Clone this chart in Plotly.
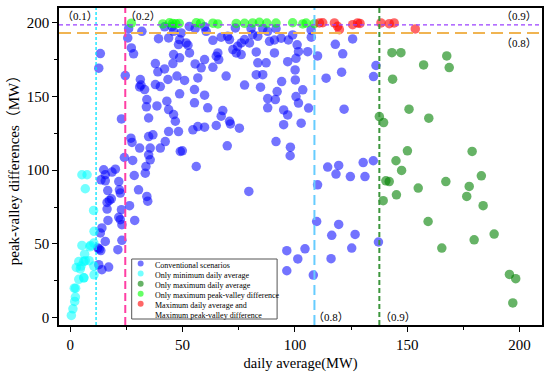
import plotly.graph_objects as go

# ---------------- data ----------------
blue_x = [13.4, 12.7, 24.5, 26, 25.6, 28.2, 27.2, 31.9, 39.3, 37.9, 39, 42, 43.5, 46, 45.7, 47.5, 31.2, 31.5, 33.1, 30.9,
          37.9, 40.1, 34.1, 33.9, 38.6, 43, 43.8, 46, 34.9, 22.8, 46.8, 43.8, 46, 42, 49.4, 48.2,
          48.7, 52.4, 53.1, 55.6, 60.5, 63.5, 67.2, 70.1, 70.9, 72.4, 73.9, 76.1, 79.8, 81.2, 80.5, 83.5, 85.7, 88.7,
          51.6, 77.6, 87.9, 74.5, 59.8, 45.3, 53, 73.5,
          48.7, 55.6, 58.3, 59.8, 63.5, 65, 65.7, 66.1, 76.1, 83.5, 87.2, 82.8, 85.7, 82.8, 69.4, 50.9, 56.8, 55.3,
          77.6, 84.7, 55.3, 59.8, 61.2, 67.9, 67.2, 87.9, 87.9, 48.7, 70.9, 90.9, 91.3, 91.6,
          27, 27.5, 30.9, 34.9, 36.8, 35.6, 34.9, 35.6, 33.7, 33.4, 40.1, 42.3, 43.8, 48.2, 49, 24.1, 27.8, 28.5,
          30.4, 34.1, 34.5, 14.9, 20.1, 18.6, 15.6, 13.7, 15.6, 21.6, 16.7, 21.9, 22.3, 18.3, 17.4, 16.4, 16.4,
          22.8, 26.4, 16.8, 21.6, 22.3, 23, 28.7, 14.1, 13.4,
          15.6, 13, 13.6, 12.3, 12.7, 14.1, 17.1, 21.2, 23,
          54.6, 56.8, 59.8, 65, 71.3, 75.3, 49.9, 69.9, 56.1, 79.5,
          90.9, 93.9, 97.1, 99, 101, 101.6, 100.5, 96.8, 100.1, 94.1, 100.2, 92.1, 100.5, 103.5, 101.6, 95, 96.8,
          102.8, 95, 91.6, 98, 97.9, 105.7, 107.3, 107.2, 110.1, 118, 121.3, 125.7, 113.9, 120.8, 136.1, 135,
          121.9, 114.6, 118.3, 119.5, 124.7, 130.4, 131.2, 134.9, 110.1, 106.1,
          96.4, 96.4, 101.3, 104.5, 108.2, 109.7, 116.4, 119.5, 116.1, 125.3, 126.8, 137.2]
blue_y = [179.1, 169.2, 164.2, 196, 189.7, 178.9, 182.9, 194.2, 189.2, 172.3, 166.7, 168.7, 161.5, 178.4, 172.3, 163.8, 161.5, 157.7, 154.7, 156.5,
          158.1, 156.7, 147.9, 143, 143.6, 146.8, 141.1, 137.7, 135.4, 134.8, 133.2, 189.7, 194.2, 197.2, 193.1, 185.2,
          188.6, 184.8, 179.5, 196, 194.2, 188.1, 190.2, 190.8, 188.6, 181.8, 179.5, 186.3, 186.3, 192, 196, 190.8, 196, 187.4,
          186.3, 188.6, 194.2, 184, 197.2, 197.4, 197.5, 196.5,
          176.2, 172.1, 169.4, 175, 169.8, 177.3, 179.5, 175, 178.4, 172.8, 172.8, 164.8, 164.8, 180.2, 163.8, 160.9, 162.6, 154.7,
          157.7, 156.3, 145.7, 150.9, 142.3, 140.4, 136.6, 148.6, 142.3, 151.8, 133.2, 179.5, 147.9, 196,
          121.7, 118.8, 115, 122.8, 124, 115, 110.4, 107, 102.5, 98, 115, 119.4, 126.2, 126.2, 112.7, 108.6, 106.6, 96.4,
          86.7, 82.2, 79, 100.3, 100.7, 98.7, 96.9, 93.5, 92.8, 92.3, 86.2, 86.7, 84.5, 80.6, 79.5, 78.1, 73.6,
          73.2, 75.9, 65.9, 68, 66.4, 63, 65.9, 60.8, 57.4,
          51.7, 46.5, 45.5, 47.3, 35.9, 32.5, 34.3, 46.1, 52.4,
          127.4, 129.6, 129.2, 130.3, 131.4, 128.5, 113.1, 116.5, 102.5, 85.6,
          188.3, 189.5, 188.3, 191.7, 185, 180.4, 175.9, 173.6, 168, 160.1, 161.2, 153.3, 149.9, 154.5, 145.5, 140.9, 137.5,
          131.9, 130.9, 119.4, 115.6, 109.8, 180.4, 190.2, 195.1, 177.5, 185.4, 178.9, 189, 162.4, 166.5, 171, 163.5,
          141.4, 102.1, 97.4, 103.2, 95.7, 105.2, 95.7, 106.4, 90.1, 142.1,
          45.4, 31.8, 39.8, 46.7, 28.9, 65.2, 55.8, 63.2, 40, 47.2, 56.4, 51.3]

cyan_x = [0.5, 1.2, 2.0, 2.3, 2.4, 1.8, 3.8, 4.5, 2.7, 4.8, 3.8, 6.0, 6.7, 8.4, 6.4, 5.2, 8.7, 10.5, 10.6, 10.4,
          5.2, 7.5, 6.7, 10.6, 6.1, 10.5, 9.0, 6.0]
cyan_y = [1.5, 6, 11, 14, 20, 20, 26, 33, 34, 35, 38, 38, 38.6, 38.6, 43, 49, 48, 50.6, 58.5, 72.7,
          96.9, 96.9, 87.4, 29, 27, 35, 49, 27]

dgreen_x = [143.2, 147.2, 157.3, 167.6, 168.7, 143.5, 150.8, 159.6, 137.6, 139.5, 150.1, 178.9, 145, 147.5, 183,
            140.5, 142, 167.2, 177.6, 154.9, 139.3, 145.2, 176.5, 183.8, 159.3, 179.8, 188.7, 165.4, 195.5, 198.3, 197]
dgreen_y = [179.7, 179.7, 171.4, 177.5, 169.6, 161.7, 141.4, 135.3, 136.4, 132.3, 113.1, 112.7, 106.4, 99.8, 96.2,
            92.8, 92.3, 92.3, 89, 87.9, 79.3, 83.3, 82.2, 75.9, 65.2, 52.8, 56.7, 47.2, 29.3, 26.4, 10]

lgreen_x = [27.2, 41.2, 44.2, 45.6, 47, 48.5, 56.1, 58, 63.5, 65.7, 73.9, 77.6, 81.2, 84.2, 87.5, 91.6, 99, 103.5, 105, 108.7]
lgreen_y = [199.7, 199.2, 200, 199.5, 199.3, 199.5, 200, 199.6, 199.7, 199.2, 199.5, 199.6, 199.9, 200.3, 199.8, 199.8,
            200, 199.2, 199.8, 199.4]

red_x = [110.9, 112.4, 117.6, 119, 119.8, 125.7, 127.9, 129, 138.3, 142, 144.2, 153.6]
red_y = [199.9, 200, 199.9, 197.6, 195.3, 198.7, 199.9, 199.5, 199.9, 199.4, 199.9, 195.8]

series_names = ["Conventional scenarios", "Only minimum daily average", "Only maximum daily average",
                "Only maximum peak-valley difference", "Maximum daily average and<br>Maximum peak-valley difference"]
series_colors = ["rgba(0,0,255,0.55)", "rgba(0,255,255,0.55)", "rgba(0,128,0,0.6)",
                 "rgba(0,255,0,0.6)", "rgba(255,0,0,0.6)"]

vline_x = [11.5, 24.5, 108.7, 137.6]
vline_colors = ["#00E5FF", "#FF3FA4", "#66CCFF", "#3C963C"]
vline_dash = ["3px,2px", "8px,4px", "10px,5px", "5px,3px"]
vline_width = [1.3, 2, 2, 2]
hline_y = [198.5, 193.1]
hline_colors = ["#9A40FF", "#F0B452"]
hline_dash = ["4px,3px", "12px,6px"]
hline_width = [1.2, 2]

labels_text = ["（0.1）", "（0.2）", "（0.9）", "（0.8）", "（0.8）", "（0.9）"]

# ---------------- figure ----------------
FONT = "Liberation Serif, Times New Roman, Noto Sans CJK SC, serif"
W, H = 550, 376
ML, MR, MT, MB = 59, 6, 8, 51
PW, PH = W - ML - MR, H - MT - MB


def pxx(px):
    return (px - ML) / PW


def pxy(py):
    return (H - MB - py) / PH


fig = go.Figure()
xs = [blue_x, cyan_x, dgreen_x, lgreen_x, red_x]
ys = [blue_y, cyan_y, dgreen_y, lgreen_y, red_y]
for i in range(5):
    fig.add_trace(go.Scatter(x=xs[i], y=ys[i], mode="markers", name=series_names[i], showlegend=False,
                             marker=dict(size=9.5, color=series_colors[i], line=dict(width=0))))

shapes = []
for x, c, d, w in zip(vline_x, vline_colors, vline_dash, vline_width):
    shapes.append(dict(type="line", xref="x", yref="paper", x0=x, x1=x, y0=0, y1=1,
                       line=dict(color=c, dash=d, width=w)))
for y, c, d, w in zip(hline_y, hline_colors, hline_dash, hline_width):
    shapes.append(dict(type="line", xref="paper", yref="y", x0=0, x1=1, y0=y, y1=y,
                       line=dict(color=c, dash=d, width=w)))

# custom legend box
shapes.append(dict(type="rect", xref="paper", yref="paper", x0=pxx(132), x1=pxx(278), y0=pxy(319), y1=pxy(259),
                   line=dict(color="#555555", width=1), fillcolor="white"))
annotations = []
row_y = [263.5, 273.6, 283.7, 293.7, 303.7]
for i, (name, col) in enumerate(zip(series_names, series_colors)):
    cy = row_y[i]
    shapes.append(dict(type="circle", xref="paper", yref="paper", x0=pxx(138), x1=pxx(144),
                       y0=pxy(cy + 3), y1=pxy(cy - 3), line=dict(width=0), fillcolor=col))
    annotations.append(dict(xref="paper", yref="paper", x=pxx(153), y=pxy(cy - 5), xanchor="left", yanchor="top",
                            text=name, showarrow=False, align="left",
                            font=dict(family=FONT, size=8, color="black")))

ann_pos = [(80, 16), (143, 16), (521, 16), (521, 43), (332, 317), (399, 317)]
for t, (ax, ay) in zip(labels_text, ann_pos):
    annotations.append(dict(xref="paper", yref="paper", x=pxx(ax), y=pxy(ay), text=t, showarrow=False,
                            xanchor="center", yanchor="middle", font=dict(family=FONT, size=11, color="black")))

axis_common = dict(showline=True, linecolor="black", linewidth=1.5, mirror=True, ticks="outside",
                   ticklen=5, tickwidth=1.2, tickcolor="black", showgrid=False, zeroline=False,
                   tickfont=dict(family=FONT, size=15, color="black"),
                   minor=dict(ticks="outside", ticklen=3, tickwidth=1, tickcolor="black", dtick=25))

fig.update_layout(
    width=W, height=H, margin=dict(l=ML, r=MR, t=MT, b=MB),
    paper_bgcolor="white", plot_bgcolor="white",
    xaxis=dict(range=[-5, 210], tickvals=[0, 50, 100, 150, 200],
               title=dict(text="daily average(MW)", font=dict(family=FONT, size=14.5, color="black"), standoff=6),
               **axis_common),
    yaxis=dict(range=[-5, 210], tickvals=[0, 50, 100, 150, 200],
               title=dict(text="peak-valley differences（MW）", font=dict(family=FONT, size=15, color="black"),
                          standoff=4),
               **axis_common),
    shapes=shapes, annotations=annotations, showlegend=False,
)

fig.write_html("out.html", config={"displayModeBar": False},
               post_script="document.body.style.margin='0';document.body.style.overflow='hidden';")
